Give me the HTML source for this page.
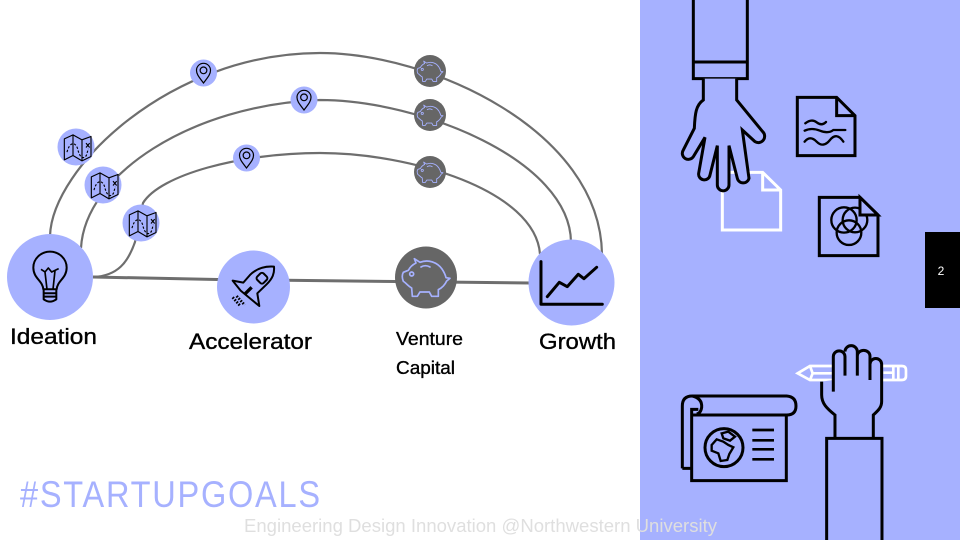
<!DOCTYPE html>
<html lang="en">
<head>
<meta charset="utf-8">
<title>Startup Goals</title>
<style>
html,body{margin:0;padding:0;background:#fff;width:960px;height:540px;overflow:hidden}
svg{display:block}
text{font-family:"Liberation Sans",sans-serif}
</style>
</head>
<body>
<svg xmlns="http://www.w3.org/2000/svg" width="960" height="540" viewBox="0 0 960 540">
<defs>
<g id="pig"><g transform="scale(.3333) translate(-318,-712)" fill="none" stroke="#a6b1ff" stroke-width="5" stroke-linejoin="round" stroke-linecap="round">
<path d="M283,657 L300,668 C325,658 352,668 366,688 C372,697 376,705 378,714 L390,716 L380,724 C375,735 365,745 355,750 L355,770 L335,770 L328,757 L300,757 L292,770 L277,770 L275,745 C265,740 258,730 250,725 C246,715 246,705 250,698 L265,692 C270,682 278,675 288,670 Z"/>
<circle cx="275" cy="703" r="6"/>
<path d="M303,682 Q316,674 330,682"/>
</g></g>
<g id="pin"><g transform="scale(.3333) translate(-611,-100)" fill="none" stroke="#000" stroke-width="3.6">
<path d="M611,130 C600,115 590,105 590,92 A21,21 0 1 1 632,92 C632,105 622,115 611,130Z"/>
<circle cx="611" cy="92" r="10"/>
</g></g>
<g id="map"><g transform="scale(.3333) translate(-80,-68)" fill="none" stroke="#000" stroke-width="3.4" stroke-linejoin="round">
<path d="M42,42 L68,30 L95,45 L122,35 L122,95 L95,108 L68,92 L42,105 Z M68,30 V92 M95,45 V108"/>
<path d="M50,82 C58,50 75,50 82,72 C88,100 100,104 108,92 L114,72" stroke-dasharray="7 5"/>
<path d="M107,55 L118,68 M118,55 L107,68"/>
</g></g>
</defs>

<rect x="640" y="0" width="320" height="540" fill="#a6b1ff"/>
<rect x="925" y="232" width="35" height="76" fill="#000"/>
<text x="941" y="275" font-size="12" fill="#fff" text-anchor="middle">2</text>

<g fill="none" stroke="#6e6e6e">
<path d="M93,277 L217,279.5 L395,281.500 L530,283" stroke-width="3"/>
<path d="M50,236 C52,168 170,53 320,53 C430,53 600,130 602,254" stroke-width="2.200"/>
<path d="M81,248 C85,175 190,105 320,100 C420,100 570,160 571,242" stroke-width="2.200"/>
<path d="M93,277 C118,276 128,262 135,242 L143,203 C160,175 240,153 320,153 C410,153 535,190 540,254" stroke-width="2.200"/>
</g>

<g>
<circle cx="50" cy="277" r="43" fill="#a6b1ff"/>
<g transform="translate(0,40) scale(.3333)" fill="none" stroke="#000" stroke-width="6" stroke-linejoin="round">
<path d="M130,748 C128,722 100,715 100,683 A50,48 0 0 1 200,683 C200,715 172,722 170,748 Z"/>
<path d="M123,688 L135,696 L145,684 L155,696 L176,686 M135,696 L141,748 M165,692 L159,748" stroke-width="5"/>
<path d="M131,748 V778 Q150,792 169,778 V748 M131,760 H169 M131,770 H169"/>
</g>
</g>

<g>
<circle cx="253.500" cy="287" r="36.500" fill="#a6b1ff"/>
<g transform="translate(0,40) scale(.3333)" fill="none" stroke="#000" stroke-width="6" stroke-linejoin="round">
<path d="M822,680 C795,678 770,685 750,705 L730,728 L698,722 L722,752 L762,785 L778,798 L772,760 L800,733 C818,715 824,700 822,680 Z"/>
<rect x="773" y="701" width="27" height="27" rx="7" transform="rotate(45 786 714)"/>
<path d="M735,762 L755,742" stroke-width="10"/>
<path d="M698,772 L720,797 M710,768 L734,795" stroke-width="8" stroke-dasharray="5 4"/>
</g>
</g>

<g>
<circle cx="426" cy="277.500" r="31" fill="#666"/>
<use href="#pig" x="0" y="0" transform="translate(426,277)"/>
</g>

<g>
<circle cx="571.500" cy="282.500" r="43" fill="#a6b1ff"/>
<g transform="translate(320,40) scale(.3333)" fill="none" stroke="#000" stroke-linecap="round" stroke-linejoin="round">
<path d="M663,665 V793 H847" stroke-width="9"/>
<path d="M682,770 L718,727 L742,740 L775,703 L792,716 L830,682" stroke-width="9"/>
</g>
</g>

<g>
<circle cx="76" cy="147" r="18.500" fill="#a6b1ff"/>
<use href="#map" transform="translate(77,147.500)"/>
<circle cx="103" cy="185" r="18.500" fill="#a6b1ff"/>
<use href="#map" transform="translate(104,185.500)"/>
<circle cx="141" cy="223" r="18.500" fill="#a6b1ff"/>
<use href="#map" transform="translate(142,223.500)"/>
</g>

<g>
<circle cx="203.500" cy="73" r="13.500" fill="#a6b1ff"/>
<use href="#pin" transform="translate(203.500,73)"/>
<circle cx="304" cy="100" r="13.500" fill="#a6b1ff"/>
<use href="#pin" transform="translate(304,100)"/>
<circle cx="246.500" cy="158" r="13.500" fill="#a6b1ff"/>
<use href="#pin" transform="translate(246.500,158)"/>
</g>

<g>
<circle cx="430" cy="71" r="16" fill="#666"/>
<use href="#pig" transform="translate(430,71) scale(.54)"/>
<circle cx="430" cy="115" r="16" fill="#666"/>
<use href="#pig" transform="translate(430,115) scale(.54)"/>
<circle cx="430" cy="172" r="16" fill="#666"/>
<use href="#pig" transform="translate(430,172) scale(.54)"/>
</g>

<g fill="#000" stroke="#000" stroke-width=".35">
<text x="10" y="344" font-size="22" textLength="87" lengthAdjust="spacingAndGlyphs">Ideation</text>
<text x="189" y="349" font-size="22" textLength="123" lengthAdjust="spacingAndGlyphs">Accelerator</text>
<text x="539" y="349" font-size="22" textLength="77" lengthAdjust="spacingAndGlyphs">Growth</text>
<text x="396" y="345" font-size="18" textLength="67" lengthAdjust="spacingAndGlyphs">Venture</text>
<text x="396" y="374" font-size="18" textLength="59" lengthAdjust="spacingAndGlyphs">Capital</text>
</g>

<text transform="translate(20,507) scale(.88,1)" x="0" y="0" font-size="37" fill="#a6b1ff" textLength="341" lengthAdjust="spacing">#STARTUPGOALS</text>
<text x="244" y="532" font-size="18" fill="#dfdfdf" textLength="473" lengthAdjust="spacingAndGlyphs">Engineering Design Innovation @Northwestern University</text>

<g transform="translate(660,0) scale(.3333)" fill="none" stroke-linejoin="miter">
<path d="M187,517 H308 L362,570 V690 H187 Z M308,517 V570 H362" stroke="#fff" stroke-width="9"/>
<g stroke="#000" stroke-width="9">
<path d="M100,-15 H262 V236 H100 Z M100,186 H262"/>
<path d="M130,236 V300 C108,315 105,340 103,385 L70,450 A17,17 0 0 0 100,470 L135,412 L116,520 A17,17 0 0 0 150,525 L172,437 V555 A17.500,17.500 0 0 0 207,555 V437 L232,535 A18,18 0 0 0 267,535 L247,390 L285,425 A19,19 0 0 0 308,395 L230,300 V236" fill="#a6b1ff"/>
</g>
<g stroke="#000" stroke-width="9">
<path d="M412,292 H530 L585,347 V467 H412 Z M530,292 V347 H585"/>
<path d="M436,370 Q455,355 470,367 T498,366 M434,392 Q455,382 480,392 T520,390 H556 M434,425 Q450,405 470,425 T510,420 T550,425" stroke-width="7" stroke-linecap="round"/>
</g>
<g stroke="#000">
<g stroke-width="7">
<circle cx="552" cy="660" r="38"/>
<circle cx="585" cy="660" r="37"/>
<circle cx="567" cy="698" r="37"/>
</g>
<path d="M478,592 H600 L654,645 V767 H478 Z" stroke-width="9"/>
<path d="M600,592 L654,645 H600 Z" stroke-width="9" fill="#a6b1ff"/>
</g>
</g>

<g transform="translate(670,330) scale(.3333)" fill="none" stroke-linejoin="miter">
<g stroke="#fff" stroke-width="8">
<path d="M383,130 L420,108 H695 Q708,108 708,120 V138 Q708,150 695,150 H420 Z M420,108 L428,130 L420,150 M428,130 H490 M640,128 H670 M670,108 V150 M685,108 V150"/>
</g>
<g stroke="#000" stroke-width="9">
<path d="M37,415 V228 Q37,198 67,198 H350 Q378,200 378,228 Q378,255 350,255 H65"/>
<path d="M67,198 Q97,205 95,232 Q92,250 80,252 M65,255 V238 H85"/>
<path d="M65,255 V452 H349 V255 M37,415 H65"/>
<circle cx="162" cy="353" r="57"/>
<path d="M155,310 L175,305 L195,320 L180,332 L160,325 Z M125,345 L140,328 L160,335 L175,345 L190,352 L178,372 L172,390 L152,393 L145,370 L125,362 Z" stroke-width="7"/>
<path d="M247,300 H312 M247,331 H312 M247,358 H312 M247,388 H312" stroke-width="8"/>
</g>
<g stroke="#000" stroke-width="9">
<path d="M495,325 V255 C470,235 455,220 455,195 V155 L490,150 V80 A17.500,17.500 0 0 1 525,75 A18.500,18 0 0 1 562,70 A19,17 0 0 1 600,90 A17.500,17.500 0 0 1 635,103 V215 C635,235 620,245 610,255 V325 Z" fill="#a6b1ff" stroke="none"/>
<path d="M495,325 V255 C470,235 455,220 455,195 V155"/>
<path d="M490,185 V80 A17.500,17.500 0 0 1 525,80 V137 M525,65 A18.500,18 0 0 1 562,65 V137 M562,78 A19,17 0 0 1 600,78 V150 M600,103 A17.500,17.500 0 0 1 635,103 V215 C635,235 620,245 610,255 V325"/>
<path d="M470,650 V325 H636 V650" fill="#a6b1ff"/>
</g>
</g>
</svg>
</body>
</html>
